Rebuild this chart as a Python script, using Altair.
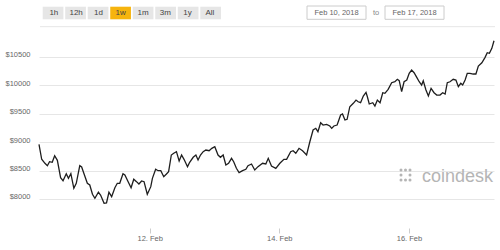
import altair as alt
import pandas as pd

# ---- data ----
hours_since_feb10 = [
    7.0, 8.0, 9.2, 10.1, 10.9, 11.9, 12.8, 13.8, 15.0, 15.9, 17.1, 17.9, 18.8, 19.9, 20.8,
    22.1, 22.8, 23.6, 24.9, 25.8, 26.8, 27.7, 29.0, 29.8, 31.1, 32.0, 32.9, 33.9, 35.1,
    36.0, 36.9, 38.1, 38.8, 40.1, 41.1, 42.1, 43.1, 44.0, 45.0, 45.9, 47.1, 48.4, 49.0,
    50.2, 51.1, 52.1, 53.2, 54.2, 55.0, 56.0, 56.9, 57.9, 58.9, 59.8, 60.7, 62.0, 62.8,
    64.1, 65.1, 65.9, 66.8, 67.8, 68.8, 70.0, 71.0, 72.1, 73.3, 74.2, 75.2, 76.2, 77.2,
    78.3, 79.1, 80.1, 81.1, 82.4, 83.6, 84.4, 85.7, 86.9, 88.1, 89.8, 91.0, 91.9, 93.1,
    94.7, 96.2, 97.7, 98.7, 100.2, 101.1, 102.1, 103.3, 104.6, 106.1, 107.3, 108.5, 109.5,
    110.3, 111.3, 112.2, 113.5, 114.7, 115.4, 116.2, 117.4, 118.7, 119.4, 120.3, 121.1,
    122.1, 123.4, 124.4, 125.2, 126.1, 127.1, 128.1, 128.6, 129.3, 130.6, 131.4, 132.3,
    133.3, 134.3, 135.1, 136.3, 137.6, 138.8, 139.7, 140.4, 141.3, 142.2, 143.2, 144.1,
    145.0, 145.9, 146.9, 147.8, 148.7, 149.3, 150.3, 151.2, 152.2, 153.3, 154.3, 155.5,
    156.5, 157.4, 158.2, 159.2, 160.4, 161.4, 162.3, 163.2, 163.9, 164.8, 165.6, 166.6,
    167.8, 168.8, 169.7, 171.0, 172.2, 173.0, 173.8, 174.7, 175.5,
]
prices = [
    8963, 8699, 8628, 8586, 8656, 8645, 8762, 8681, 8375, 8322, 8445, 8364, 8445, 8188, 8276,
    8586, 8563, 8452, 8276, 8246, 8083, 8012, 8118, 8070, 7924, 7930, 8118, 8041, 8199,
    8276, 8276, 8445, 8422, 8294, 8199, 8347, 8305, 8264, 8317, 8305, 8083, 8217, 8364,
    8523, 8498, 8498, 8392, 8440, 8481, 8774, 8804, 8833, 8669, 8774, 8698, 8569, 8646,
    8734, 8774, 8686, 8774, 8833, 8862, 8850, 8892, 8921, 8774, 8734, 8774, 8598, 8628,
    8716, 8656, 8540, 8463, 8498, 8523, 8586, 8616, 8510, 8569, 8628, 8616, 8716, 8581,
    8540, 8628, 8698, 8698, 8833, 8850, 8804, 8892, 8850, 8774, 9008, 9214, 9244,
    9185, 9343, 9302, 9314, 9285, 9244, 9285, 9302, 9478, 9496, 9390, 9402,
    9624, 9684, 9742, 9712, 9695, 9813, 9878, 9800, 9672, 9695, 9637, 9742,
    9695, 9871, 9860, 9930, 10047, 10064, 10107, 10082, 9889, 10064, 10094, 10212,
    10270, 10223, 10141, 10064, 10006, 10082, 9918, 9813, 9948, 9871, 9830, 9830,
    9871, 9848, 10047, 10064, 10107, 10094, 9977, 10036, 10006, 10094, 10212, 10212,
    10200, 10200, 10341, 10399, 10494, 10575, 10564, 10652, 10786,
]
y_ticks = [8000, 8500, 9000, 9500, 10000, 10500]
range_buttons = ["1h", "12h", "1d", "1w", "1m", "3m", "1y", "All"]
selected_button = "1w"
date_from = "Feb 10, 2018"
date_to = "Feb 17, 2018"
brand = "coindesk"

base = pd.Timestamp("2018-02-10")
df = pd.DataFrame({
    "time": [base + pd.Timedelta(hours=h) for h in hours_since_feb10],
    "price": prices,
})

FONT = "Liberation Sans"

line = alt.Chart(df).mark_line(color="#1e1e1e", strokeWidth=1.3).encode(
    x=alt.X(
        "time:T",
        scale=alt.Scale(
            domain=[
                alt.DateTime(year=2018, month=2, date=10, hours=7),
                alt.DateTime(year=2018, month=2, date=17, hours=7, minutes=30),
            ]
        ),
        axis=alt.Axis(
            title=None,
            format="%d. %b",
            values=[
                alt.DateTime(year=2018, month=2, date=12),
                alt.DateTime(year=2018, month=2, date=14),
                alt.DateTime(year=2018, month=2, date=16),
            ],
            grid=False,
            domain=False,
            ticks=True,
            tickSize=5,
            tickColor="#cccccc",
            labelColor="#666666",
            labelFontSize=7.5,
            labelFont=FONT,
            labelPadding=1,
        ),
    ),
    y=alt.Y(
        "price:Q",
        scale=alt.Scale(domain=[7489, 10887], nice=False, zero=False),
        axis=alt.Axis(
            title=None,
            values=y_ticks,
            labelExpr="'$' + datum.value",
            grid=True,
            gridColor="#e6e6e6",
            domain=False,
            ticks=False,
            labelColor="#666666",
            labelFontSize=7.5,
            labelFont=FONT,
            labelPadding=9,
            labelBaseline="alphabetic",
        ),
    ),
)

btn_df = pd.DataFrame({"label": range_buttons})
btn_scale = alt.Scale(domain=range_buttons, range=[3.7, 182], paddingInner=0.08, paddingOuter=0)

buttons = alt.Chart(btn_df).mark_rect().encode(
    x=alt.X("label:N", scale=btn_scale, axis=None),
    y=alt.value(-28.3),
    y2=alt.value(-15.7),
    color=alt.condition(
        alt.datum.label == selected_button, alt.value("#f6b40e"), alt.value("#e6e6e6")
    ),
)
button_text = alt.Chart(btn_df).mark_text(
    font=FONT, fontSize=8, color="#444444", baseline="middle", align="center"
).encode(
    x=alt.X("label:N", scale=btn_scale, axis=None),
    y=alt.value(-21.8),
    text="label:N",
)

one = pd.DataFrame({"a": [0]})

separator = alt.Chart(one).mark_rule(color="#e6e6e6", strokeWidth=1).encode(
    x=alt.value(1), x2=alt.value(456), y=alt.value(-8.3)
)

box_from = alt.Chart(one).mark_rect(fill="white", stroke="#cccccc", strokeWidth=1).encode(
    x=alt.value(268), x2=alt.value(327), y=alt.value(-29), y2=alt.value(-15.7)
)
box_to = alt.Chart(one).mark_rect(fill="white", stroke="#cccccc", strokeWidth=1).encode(
    x=alt.value(346), x2=alt.value(405), y=alt.value(-29), y2=alt.value(-15.7)
)
txt_from = alt.Chart(one).mark_text(
    font=FONT, fontSize=7.5, color="#666666", baseline="middle", align="center"
).encode(x=alt.value(297.5), y=alt.value(-22.2), text=alt.value(date_from))
txt_to = alt.Chart(one).mark_text(
    font=FONT, fontSize=7.5, color="#666666", baseline="middle", align="center"
).encode(x=alt.value(375.5), y=alt.value(-22.2), text=alt.value(date_to))
txt_mid = alt.Chart(one).mark_text(
    font=FONT, fontSize=7.5, color="#888888", baseline="middle", align="center"
).encode(x=alt.value(337), y=alt.value(-22.2), text=alt.value("to"))

brand_text = alt.Chart(one).mark_text(
    font=FONT, fontSize=18, color="#b5b5b5", baseline="alphabetic", align="left"
).encode(x=alt.value(383), y=alt.value(147), text=alt.value(brand))

icon_layers = []
for cx in (362, 366.5, 371):
    for cy in (135, 140, 145):
        if (cx, cy) == (366.5, 140):
            continue
        icon_layers.append(
            alt.Chart(one).mark_circle(color="#b5b5b5", opacity=1, size=9).encode(
                x=alt.value(cx), y=alt.value(cy)
            )
        )

chart = alt.layer(
    line, separator, buttons, button_text, box_from, box_to, txt_from, txt_to, txt_mid,
    brand_text, *icon_layers,
).resolve_scale(x="independent").properties(
    width=455,
    height=193,
    autosize=alt.AutoSizeParams(type="none"),
    padding={"left": 39, "top": 35, "right": 6, "bottom": 22},
    background="white",
).configure_view(stroke=None)

chart.save("out.html", embed_options={"renderer": "svg", "actions": False})
